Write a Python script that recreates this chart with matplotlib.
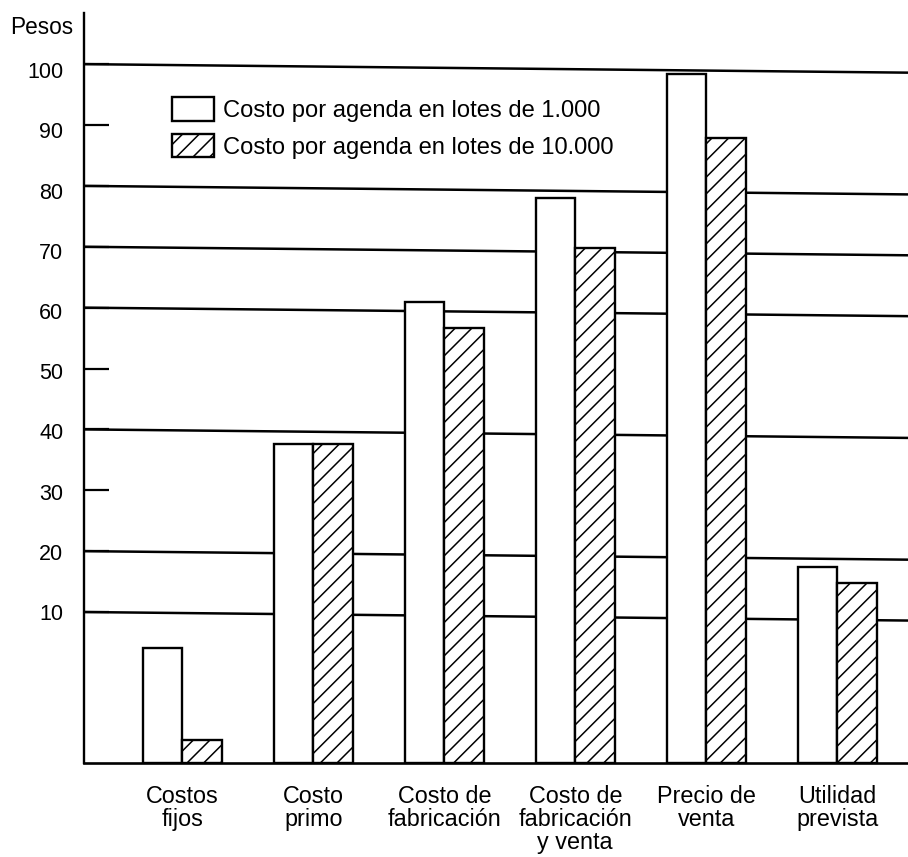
import numpy as np
import matplotlib.pyplot as plt
from matplotlib.transforms import ScaledTranslation

plt.rcParams['font.family'] = ['Liberation Sans', 'DejaVu Sans']
plt.rcParams['hatch.linewidth'] = 1.1

categorias = ['Costos\nfijos', 'Costo\nprimo', 'Costo de\nfabricación',
              'Costo de\nfabricación\ny venta', 'Precio de\nventa', 'Utilidad\nprevista']
lote_1000 = [4.1, 37.6, 60.9, 78.0, 98.4, 17.4]
lote_10000 = [-11.0, 37.6, 56.7, 69.8, 87.8, 14.8]
niveles = [10, 20, 30, 40, 50, 60, 70, 80, 90, 100]
lineas = [10, 20, 40, 60, 70, 80, 100]
leyenda = ['Costo por agenda en lotes de 1.000', 'Costo por agenda en lotes de 10.000']

YMIN, YMAX = -14.8, 108.4
XMIN, XMAX = -0.75, 5.54
TILT = 1.4  # the scanned lines drop a bit to the right

fig = plt.figure(figsize=(9.08, 8.57), dpi=100)
ax = fig.add_axes([84/908, 1 - 763/857, 1 - 84/908, (763 - 13)/857])

x = np.arange(len(categorias))
w = 0.3
b1 = ax.bar(x - w/2, np.array(lote_1000) - YMIN, w, bottom=YMIN, color='white',
            edgecolor='black', linewidth=1.7, zorder=3)
b2 = ax.bar(x + w/2, np.array(lote_10000) - YMIN, w, bottom=YMIN, color='white',
            edgecolor='black', linewidth=1.7, hatch='//', zorder=3)

for v in lineas:
    ax.plot([XMIN, XMAX], [v, v - TILT], color='black', lw=1.8, zorder=1,
            solid_capstyle='butt')

ax.set_xlim(XMIN, XMAX)
ax.set_ylim(YMIN, YMAX)
for s in ['top', 'right']:
    ax.spines[s].set_visible(False)
ax.spines['left'].set_linewidth(1.7)
ax.spines['bottom'].set_linewidth(1.9)

ax.set_yticks(niveles, [str(n) for n in niveles])
ax.tick_params(axis='y', direction='in', length=18, width=1.6, pad=15, labelsize=15.5)
# labels in the scan sit a little below their lines, more so near the top
for n, lbl in zip(niveles, ax.get_yticklabels()):
    dy = -(n - 10) / 90 * 6 / 100
    lbl.set_transform(lbl.get_transform() + ScaledTranslation(0, dy, fig.dpi_scale_trans))

ax.set_xticks(x, categorias)
ax.tick_params(axis='x', length=0, pad=16, labelsize=16.8)
for lbl in ax.get_xticklabels():
    lbl.set_linespacing(1.0)

ax.legend(handles=[b1, b2], labels=leyenda, loc='upper left',
          bbox_to_anchor=(172/908, 1 - 97/857), bbox_transform=fig.transFigure,
          frameon=False, fontsize=17.1, handlelength=1.75, handleheight=1.15,
          handletextpad=0.4, labelspacing=0.5, borderpad=0, borderaxespad=0)

fig.text(10/908, 1 - 27/857, 'Pesos', fontsize=16.3, va='center', ha='left')

fig.savefig('out.png', dpi=100)
